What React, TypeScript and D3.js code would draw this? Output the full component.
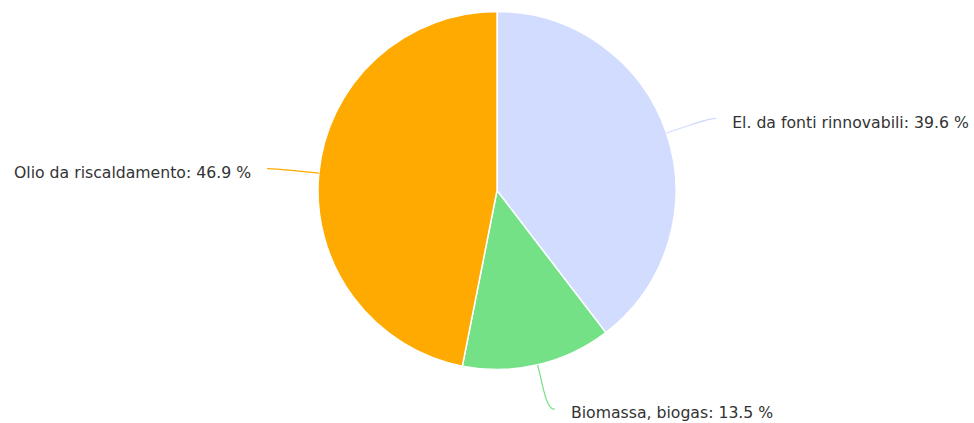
import React from "react";
import * as d3 from "d3";

const categories = ["El. da fonti rinnovabili", "Biomassa, biogas", "Olio da riscaldamento"];
const values = [39.6, 13.5, 46.9];
const colors = ["#d2dcff", "#75e187", "#ffaa00"];

const W = 974;
const H = 423;
const cx = 497;
const cy = 190.5;
const r = 179;

export default function App() {
  const pie = d3.pie<number>().sort(null).value((d) => d);
  const arcs = pie(values);
  const arcGen = d3.arc<d3.PieArcDatum<number>>().innerRadius(0).outerRadius(r);
  const pt = (a: number, rad: number): [number, number] => [cx + rad * Math.sin(a), cy - rad * Math.cos(a)];

  return (
    <svg width={W} height={H} style={{ position: "absolute", left: 0, top: 0 }}>
      <g transform={`translate(${cx},${cy})`}>
        {arcs.map((a, i) => (
          <path key={i} d={arcGen(a) || ""} fill={colors[i]} stroke="#ffffff" strokeWidth={1.5} strokeLinejoin="round" />
        ))}
      </g>
      {arcs.map((a, i) => {
        const mid = (a.startAngle + a.endAngle) / 2;
        const dir = Math.sin(mid) >= 0 ? 1 : -1;
        const edge = pt(mid, r);
        const brk = pt(mid, r + 25);
        const anc = pt(mid, r + 45);
        const end: [number, number] = [anc[0] + dir * 7, anc[1]];
        const c2: [number, number] = [2 * brk[0] - edge[0], 2 * brk[1] - edge[1]];
        const d = `M${end[0]},${end[1]} C${end[0]},${end[1]} ${c2[0]},${c2[1]} ${brk[0]},${brk[1]} L${edge[0]},${edge[1]}`;
        const tx = end[0] + dir * 16;
        return (
          <g key={"l" + i}>
            <path d={d} fill="none" stroke={colors[i]} strokeWidth={1.2} />
            <text
              x={tx}
              y={end[1] + 9}
              textAnchor={dir > 0 ? "start" : "end"}
              fontFamily="'DejaVu Sans', sans-serif"
              fontSize={15.7}
              fill="#333333"
            >
              {`${categories[i]}: ${values[i].toFixed(1)} %`}
            </text>
          </g>
        );
      })}
    </svg>
  );
}
